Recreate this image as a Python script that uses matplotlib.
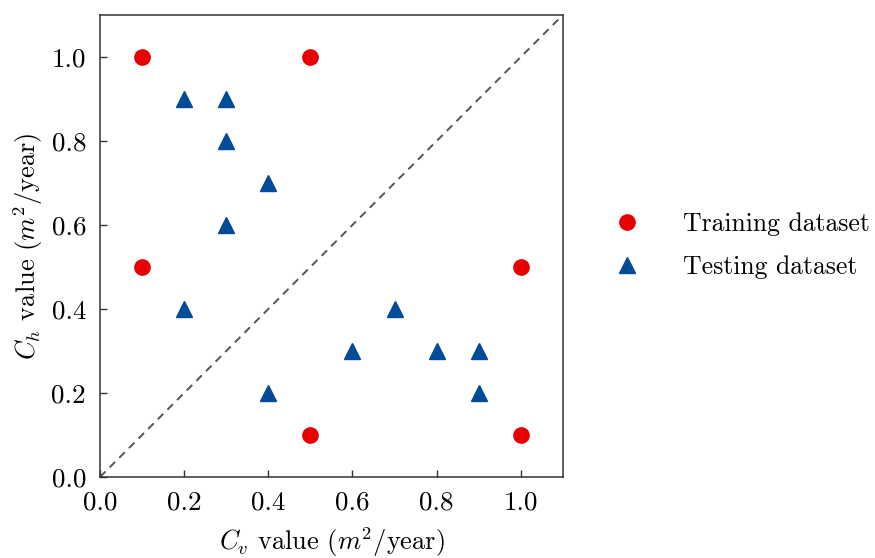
import matplotlib
matplotlib.use("Agg")
import matplotlib.pyplot as plt

plt.rcParams['font.family'] = ['cmr10', 'DejaVu Serif']
plt.rcParams['mathtext.fontset'] = 'cm'
plt.rcParams['axes.formatter.use_mathtext'] = True

# Training samples (Cv, Ch)
train_cv = [0.1, 0.5, 0.1, 1.0, 0.5, 1.0]
train_ch = [1.0, 1.0, 0.5, 0.5, 0.1, 0.1]

# Testing samples (Cv, Ch)
test_cv = [0.2, 0.3, 0.3, 0.4, 0.3, 0.2, 0.4, 0.6, 0.7, 0.8, 0.9, 0.9]
test_ch = [0.9, 0.9, 0.8, 0.7, 0.6, 0.4, 0.2, 0.3, 0.4, 0.3, 0.3, 0.2]

ticks = [0.0, 0.2, 0.4, 0.6, 0.8, 1.0]
limit = 1.1

fig = plt.figure(figsize=(8.75, 5.58), dpi=100)
ax = fig.add_axes([0.1143, 0.1452, 0.529, 0.828])

ax.plot([0, limit], [0, limit], ls='--', color='#555555', lw=1.4, dashes=(4, 3), zorder=1)
ax.plot(train_cv, train_ch, 'o', color='#e60000', markersize=11, ls='none',
        label='Training dataset', zorder=3)
ax.plot(test_cv, test_ch, '^', color='#004c99', markersize=12, ls='none',
        label='Testing dataset', zorder=3)

ax.set_xlim(0, limit)
ax.set_ylim(0, limit)
ax.set_xticks(ticks)
ax.set_yticks(ticks)
ax.set_xticklabels([f"{t:.1f}" for t in ticks])
ax.set_yticklabels([f"{t:.1f}" for t in ticks])
ax.tick_params(direction='in', length=5, width=1, labelsize=19.5, color='#333333')
ax.tick_params(axis='x', pad=10)
ax.tick_params(axis='y', pad=10)
for s in ax.spines.values():
    s.set_linewidth(1.1)
    s.set_color('#333333')

ax.set_xlabel(r'$C_v$ value ($m^2$/year)', fontsize=19, labelpad=8)
ax.set_ylabel(r'$C_h$ value ($m^2$/year)', fontsize=19, labelpad=5)

ax.legend(loc='center left', bbox_to_anchor=(1.06, 0.5), frameon=False,
          fontsize=18.5, handletextpad=1.18, labelspacing=0.75, borderaxespad=0)

fig.savefig('out.png', dpi=100)
